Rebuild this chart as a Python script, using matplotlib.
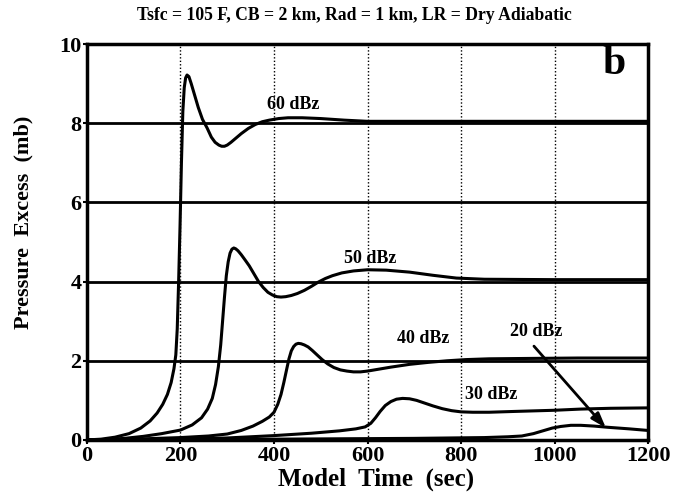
import numpy as np
import matplotlib
matplotlib.use("Agg")
import matplotlib.pyplot as plt

plt.rcParams['font.family'] = ['Liberation Serif', 'DejaVu Serif']
plt.rcParams['font.weight'] = 'bold'

# pressure excess (mb) vs model time (sec) for each reflectivity
t60 = [0, 30, 60, 90, 115, 135, 150, 162, 172, 180, 186, 190, 193, 196, 199, 202, 205, 208, 211, 214,
       218, 223, 230, 238, 247, 257, 266, 274, 282, 288, 294, 300, 308, 318, 330, 345, 360, 375, 390,
       410, 430, 460, 500, 550, 600, 700, 800, 1000, 1200]
p60 = [0, 0.02, 0.07, 0.16, 0.3, 0.48, 0.68, 0.9, 1.15, 1.45, 1.8, 2.15, 2.8, 4.0, 5.4, 7.0, 8.3, 8.9, 9.15, 9.22,
       9.18, 9.0, 8.72, 8.4, 8.1, 7.88, 7.65, 7.52, 7.45, 7.42, 7.42, 7.45, 7.52, 7.62, 7.74, 7.87, 7.97, 8.04, 8.08,
       8.12, 8.14, 8.14, 8.12, 8.08, 8.05, 8.05, 8.05, 8.05, 8.05]

t50 = [0, 40, 80, 120, 160, 200, 225, 245, 258, 268, 275, 281, 286, 290, 294, 298, 302, 306, 310, 314,
       318, 323, 330, 338, 347, 357, 367, 377, 387, 397, 406, 415, 425, 437, 450, 465, 480, 495, 510,
       525, 545, 570, 600, 640, 690, 740, 790, 850, 1000, 1200]
p50 = [0, 0.01, 0.04, 0.09, 0.16, 0.25, 0.38, 0.56, 0.78, 1.05, 1.4, 1.85, 2.4, 3.0, 3.6, 4.15, 4.5, 4.72, 4.82, 4.85,
       4.83, 4.78, 4.68, 4.55, 4.4, 4.2, 4.0, 3.85, 3.73, 3.66, 3.62, 3.61, 3.62, 3.65, 3.7, 3.78, 3.88, 3.99, 4.08,
       4.15, 4.22, 4.27, 4.3, 4.29, 4.24, 4.16, 4.09, 4.06, 4.05, 4.05]

t40 = [0, 100, 200, 260, 300, 330, 355, 375, 390, 400, 408, 415, 421, 427, 432, 437, 442, 447, 452, 458,
       465, 473, 482, 492, 503, 515, 528, 542, 556, 570, 585, 600, 620, 650, 690, 730, 770, 810, 860,
       950, 1050, 1200]
p40 = [0, 0.02, 0.06, 0.1, 0.15, 0.24, 0.35, 0.47, 0.58, 0.7, 0.9, 1.15, 1.45, 1.78, 2.05, 2.25, 2.36, 2.42, 2.44, 2.43,
       2.4, 2.35, 2.26, 2.15, 2.03, 1.92, 1.83, 1.77, 1.74, 1.72, 1.72, 1.74, 1.78, 1.84, 1.91, 1.96, 2.0, 2.03, 2.05,
       2.06, 2.07, 2.07]

t30 = [0, 200, 300, 400, 480, 540, 575, 595, 607, 617, 627, 638, 650, 662, 675, 690, 705, 720, 740,
       760, 780, 800, 825, 860, 913, 1000, 1056, 1120, 1200]
p30 = [0, 0.02, 0.05, 0.11, 0.17, 0.23, 0.28, 0.33, 0.42, 0.56, 0.72, 0.87, 0.97, 1.03, 1.05, 1.04, 1.0, 0.94, 0.86,
       0.79, 0.74, 0.71, 0.7, 0.7, 0.72, 0.75, 0.78, 0.8, 0.81]

t20 = [0, 400, 700, 850, 900, 930, 955, 975, 995, 1013, 1035, 1056, 1085, 1114, 1160, 1200]
p20 = [0, 0.02, 0.04, 0.06, 0.08, 0.1, 0.16, 0.23, 0.3, 0.34, 0.37, 0.37, 0.35, 0.32, 0.28, 0.24]

series = [(t60, p60), (t50, p50), (t40, p40), (t30, p30), (t20, p20)]

# curve labels: text, time, pressure
labels = ['60 dBz', '50 dBz', '40 dBz', '30 dBz', '20 dBz']
label_t = [441, 606, 720, 864, 960]
label_p = [8.48, 4.58, 2.57, 1.16, 2.75]

xticks = [0, 200, 400, 600, 800, 1000, 1200]
yticks = [0, 2, 4, 6, 8, 10]

fig = plt.figure(figsize=(6.77, 4.96), dpi=100)
ax = fig.add_axes([0.1285, 0.113, 0.8287, 0.798])

for t, p in series:
    ax.plot(t, p, color='black', lw=2.2, solid_capstyle='round', solid_joinstyle='round', zorder=3)

# solid horizontal grid, dotted vertical grid
for y in yticks[1:-1]:
    ax.axhline(y, color='black', lw=2.0, zorder=2)
for x in xticks[1:-1]:
    ax.axvline(x, color='black', lw=1.0, ls=(0, (1, 1.5)), zorder=1)

for txt, x, y in zip(labels, label_t, label_p):
    ax.text(x, y, txt, ha='center', va='center', fontsize=13, fontweight='bold', zorder=4)

ax.annotate('', xy=(1110, 0.3), xytext=(956, 2.37),
            arrowprops=dict(arrowstyle='-|>,head_length=0.9,head_width=0.3',
                            color='black', lw=2.0, shrinkA=0, shrinkB=0), zorder=4)

ax.text(1127, 9.5, 'b', ha='center', va='center', fontsize=30, fontweight='bold')

ax.set_xlim(0, 1200)
ax.set_ylim(0, 10)
ax.set_xticks(xticks)
ax.set_yticks(yticks)
ax.tick_params(axis='both', labelsize=16, width=1.5, length=3, direction='out', pad=1)
for lab in ax.get_xticklabels() + ax.get_yticklabels():
    lab.set_fontweight('bold')
for s in ax.spines.values():
    s.set_linewidth(2.5)

ax.set_xlabel('Model  Time  (sec)', fontsize=18, fontweight='bold')
ax.set_ylabel('Pressure  Excess  (mb)', fontsize=16, fontweight='bold')
ax.xaxis.set_label_coords(0.515, -0.07)
ax.yaxis.set_label_coords(-0.096, 0.55)
fig.text(0.523, 0.968, 'Tsfc = 105 F, CB = 2 km, Rad = 1 km, LR = Dry Adiabatic',
         ha='center', va='center', fontsize=12.7, fontweight='bold')

fig.savefig('out.png', dpi=100)
